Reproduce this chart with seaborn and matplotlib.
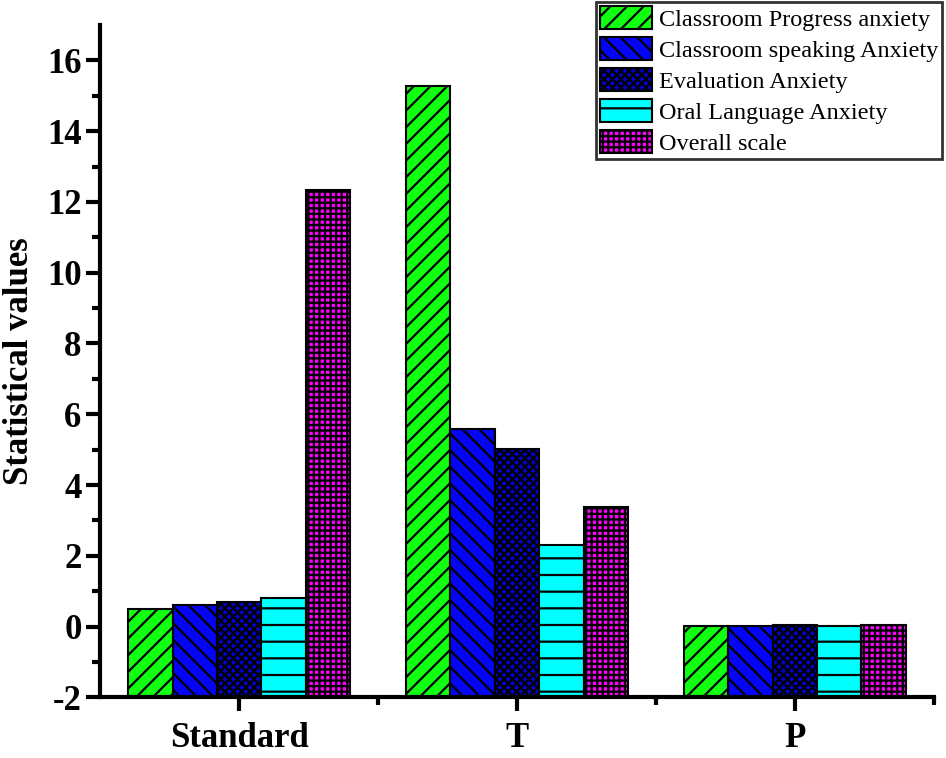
import pandas as pd
import numpy as np
import matplotlib
matplotlib.use("Agg")
import matplotlib.pyplot as plt
import seaborn as sns

# values
groups = ["Standard", "T", "P"]
series = ["Classroom Progress anxiety", "Classroom speaking Anxiety",
          "Evaluation Anxiety", "Oral Language Anxiety", "Overall scale"]
progress = [0.50, 15.28, 0.01]
speaking = [0.62, 5.59, 0.01]
evaluation = [0.69, 5.02, 0.05]
oral = [0.80, 2.31, 0.03]
overall = [12.33, 3.38, 0.04]

colors = ["#11ff11", "#0505f5", "#0000d0", "#00ffff", "#ff00ff"]
hatches = ["//", "\\\\", "xxxx", "-", "+++"]

rows = []
for name, vals in zip(series, [progress, speaking, evaluation, oral, overall]):
    for g, v in zip(groups, vals):
        rows.append({"group": g, "series": name, "value": v})
df = pd.DataFrame(rows)

sns.set_style("ticks")
plt.rcParams["font.family"] = ["Liberation Serif", "DejaVu Serif"]
plt.rcParams["hatch.linewidth"] = 1.6
plt.rcParams["axes.unicode_minus"] = False
for k in ["text.color", "axes.labelcolor", "xtick.color", "ytick.color", "axes.edgecolor"]:
    plt.rcParams[k] = "black"

fig = plt.figure(figsize=(9.46, 7.58), dpi=100)
ax = fig.add_axes([0.106, 0.080, 0.881, 0.887])

sns.barplot(data=df, x="group", y="value", hue="series", hue_order=series,
            order=groups, palette=colors, saturation=1, width=0.8, ax=ax,
            edgecolor="black", linewidth=1.5, errorbar=None)

ymin = -2
# Origin-style bars start at the bottom of the axis
for cont, h in zip(ax.containers, hatches):
    for p in cont:
        top = p.get_y() + p.get_height()
        p.set_y(ymin)
        p.set_height(top - ymin)
        p.set_hatch(h)

ax.set_ylim(ymin, 17)
ax.set_xlim(-0.5, 2.5)
ax.set_yticks(np.arange(-2, 17, 2))
ax.set_yticks(np.arange(-1, 17, 2), minor=True)
ax.set_xticks([0.5, 1.5, 2.5], minor=True)

for s in ["top", "right"]:
    ax.spines[s].set_visible(False)
for s in ["left", "bottom"]:
    ax.spines[s].set_linewidth(3)

ax.tick_params(axis="both", which="major", length=10, width=3, direction="out")
ax.tick_params(axis="both", which="minor", length=6, width=3, direction="out")
ax.tick_params(axis="y", labelsize=25)
ax.tick_params(axis="x", labelsize=25, pad=8)
for lab in ax.get_xticklabels() + ax.get_yticklabels():
    lab.set_fontweight("bold")

ax.set_xlabel("")
ax.set_ylabel("Statistical values", fontsize=25, fontweight="bold", labelpad=8)

leg = ax.legend(loc="upper right", bbox_to_anchor=(0.996, 0.997),
                bbox_transform=fig.transFigure, fontsize=17.5, frameon=True,
                fancybox=False, edgecolor="black", handlelength=2.15,
                handleheight=1.1, labelspacing=0.25, borderpad=0.15,
                handletextpad=0.3, borderaxespad=0)
leg.get_frame().set_linewidth(2)
for hnd, h in zip(leg.legend_handles, hatches):
    hnd.set_hatch(h)
    hnd.set_edgecolor("black")

fig.savefig("out.png", dpi=100)
